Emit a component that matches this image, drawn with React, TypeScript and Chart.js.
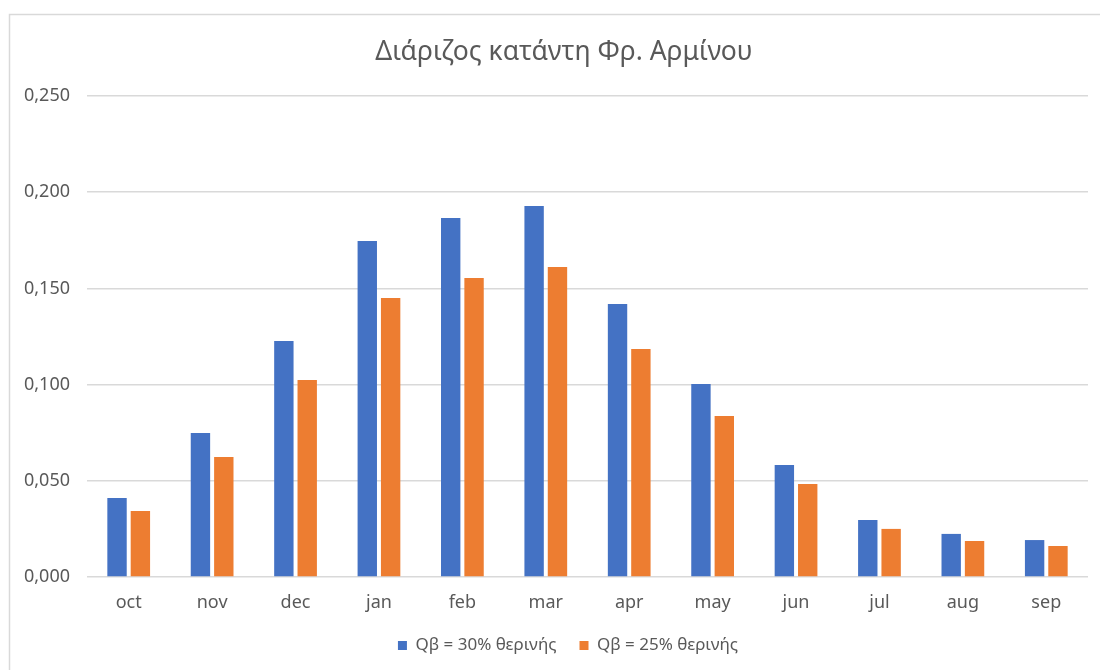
import React, { useEffect, useRef } from "react";
import { Chart, registerables } from "chart.js";

Chart.register(...registerables);

const months = ["oct", "nov", "dec", "jan", "feb", "mar", "apr", "may", "jun", "jul", "aug", "sep"];
const q30 = [0.041, 0.0748, 0.1227, 0.1746, 0.1866, 0.1928, 0.1419, 0.1003, 0.0582, 0.0296, 0.0224, 0.0192];
const q25 = [0.0343, 0.0624, 0.1024, 0.145, 0.1554, 0.1611, 0.1185, 0.0837, 0.0483, 0.025, 0.0187, 0.0161];
const seriesNames = ["Qβ = 30% θερινής", "Qβ = 25% θερινής"];
const titleText = "Διάριζος κατάντη Φρ. Αρμίνου";

const FONT = "'Noto Sans', 'Open Sans', sans-serif";
const TEXT = "#595959";
const GRID = "#d9d9d9";
// The frame runs past the right edge of the canvas, so the title and legend
// are centred on the frame rather than on the canvas.
const FRAME_CENTER_X = 564;
const LEGEND_SHIFT = 24;

// White page, the thin frame around the chart, and the title
const framePlugin = {
  id: "frame",
  afterLayout(chart: any) {
    if (chart.legend) {
      chart.legend.left += LEGEND_SHIFT;
      chart.legend.right += LEGEND_SHIFT;
    }
  },
  beforeDraw(chart: Chart) {
    const { ctx, width, height } = chart;
    ctx.save();
    ctx.fillStyle = "#ffffff";
    ctx.fillRect(0, 0, width, height);
    ctx.strokeStyle = GRID;
    ctx.lineWidth = 1.5;
    ctx.strokeRect(9.5, 14.5, width + 20, height + 20);
    ctx.fillStyle = TEXT;
    ctx.font = `26.5px ${FONT}`;
    ctx.textAlign = "center";
    ctx.textBaseline = "middle";
    ctx.fillText(titleText, FRAME_CENTER_X, 52);
    ctx.restore();
  },
};

export default function App() {
  const ref = useRef<HTMLCanvasElement>(null);

  useEffect(() => {
    if (!ref.current) return;
    const chart = new Chart(ref.current, {
      type: "bar",
      data: {
        labels: months,
        datasets: [
          { label: seriesNames[0], data: q30, backgroundColor: "#4472C4", barPercentage: 0.83, categoryPercentage: 0.56 },
          { label: seriesNames[1], data: q25, backgroundColor: "#ED7D31", barPercentage: 0.83, categoryPercentage: 0.56 },
        ],
      },
      options: {
        responsive: false,
        animation: false,
        layout: { padding: { left: 0, right: 12, top: 96, bottom: 6 } },
        plugins: {
          tooltip: { enabled: false },
          title: { display: false },
          legend: {
            position: "bottom",
            labels: {
              color: TEXT,
              font: { family: FONT, size: 17 },
              boxWidth: 9,
              boxHeight: 9,
              padding: 23,
            },
          },
        },
        scales: {
          x: {
            grid: { display: false, drawTicks: false },
            border: { display: false },
            afterFit(scale: any) {
              scale.height = 37;
            },
            ticks: { color: TEXT, font: { family: FONT, size: 18 }, padding: 15 },
          },
          y: {
            min: 0,
            max: 0.25,
            grid: { color: GRID, lineWidth: 1.5, drawTicks: false },
            border: { display: false },
            afterFit(scale: any) {
              scale.width = 87;
            },
            ticks: {
              stepSize: 0.05,
              color: TEXT,
              padding: 17,
              font: { family: FONT, size: 18 },
              callback: (v: any) => Number(v).toFixed(3).replace(".", ","),
            },
          },
        },
      },
      plugins: [framePlugin],
    });
    return () => chart.destroy();
  }, []);

  return (
    <div style={{ position: "absolute", left: 0, top: 0, width: 1100, height: 670 }}>
      <canvas ref={ref} width={1100} height={670} />
    </div>
  );
}
